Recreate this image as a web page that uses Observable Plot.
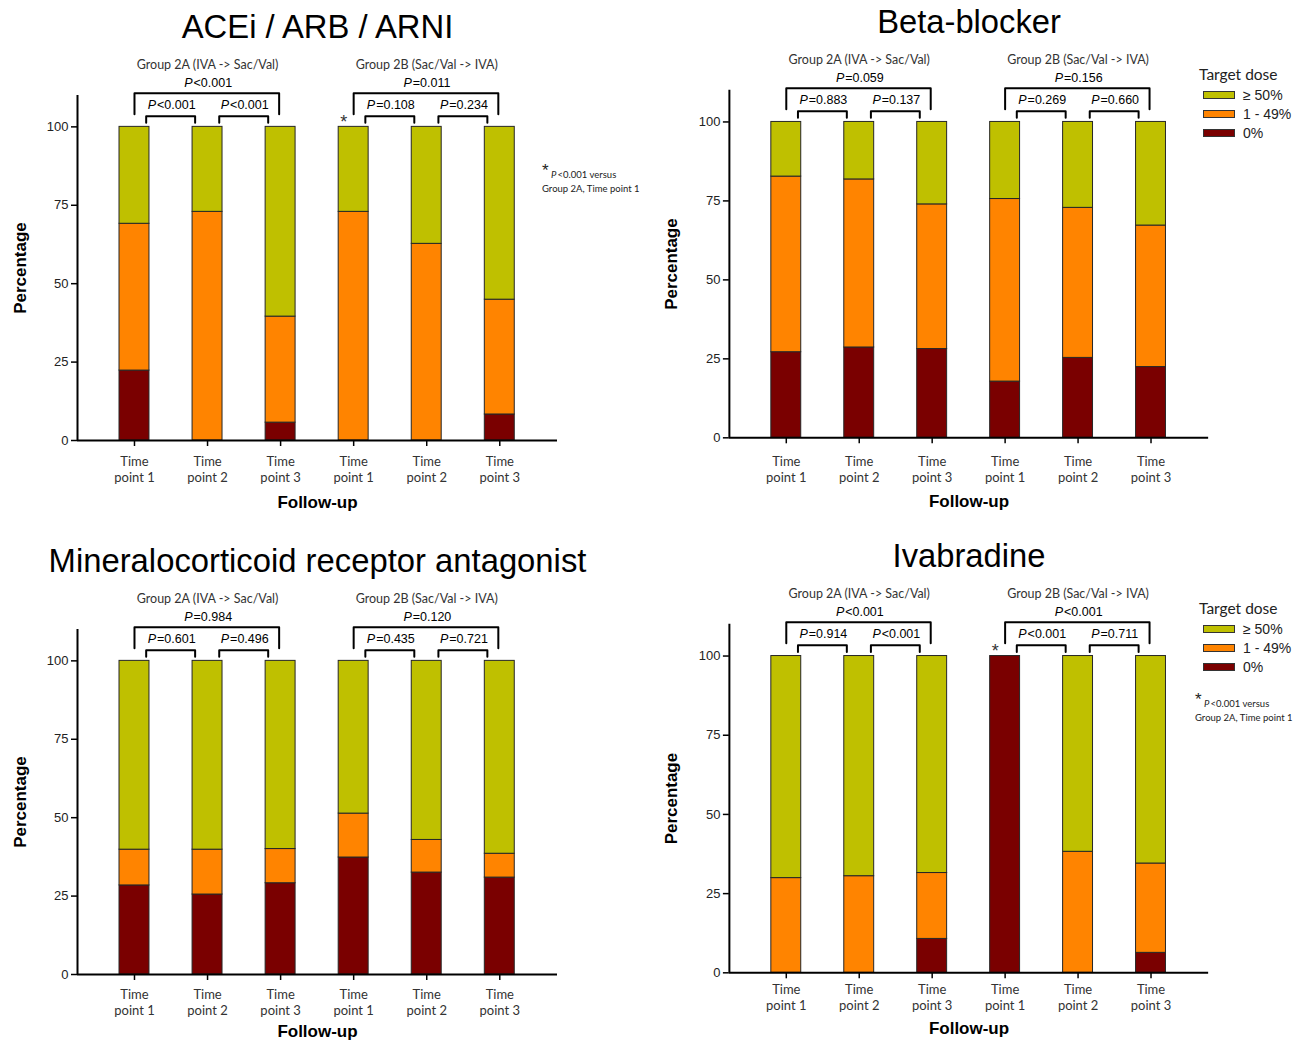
<!DOCTYPE html>
<html><head><meta charset="utf-8">
<script src="https://cdn.jsdelivr.net/npm/d3@7"></script>
<script src="https://cdn.jsdelivr.net/npm/@observablehq/plot@0.6"></script>
<style>
body{margin:0;background:#fff;}
#root{position:relative;width:1302px;height:1041px;overflow:hidden;background:#fff;font-family:"Liberation Sans",Arial,sans-serif;}
.panel{position:absolute;}
.abs{position:absolute;white-space:nowrap;}
.sw{position:absolute;width:32px;height:8px;border:1px solid #333;box-sizing:border-box;}
</style></head><body><div id="root"></div>
<script>
// ---------- data ----------
const positions = [1, 2, 3, 4, 5, 6];
const tickLabels = ["Time\npoint 1", "Time\npoint 2", "Time\npoint 3", "Time\npoint 1", "Time\npoint 2", "Time\npoint 3"];
const groups = ["Group 2A (IVA -> Sac/Val)", "Group 2B (Sac/Val -> IVA)"];
const doses = ["0%", "1 - 49%", "\u2265 50%"];
const doseColors = ["#7A0000", "#FF8400", "#BFC000"];

// ACEi / ARB / ARNI
const aceZero = [22.3, 0, 5.7, 0, 0, 8.3];
const aceLow  = [46.8, 72.9, 33.8, 72.9, 62.7, 36.6];
const aceHigh = [30.9, 27.1, 60.5, 27.1, 37.3, 55.1];
const aceP = ["<0.001", "<0.001", "<0.001", "=0.011", "=0.108", "=0.234"];

// Beta-blocker
const betaZero = [27.1, 28.6, 28.1, 17.8, 25.3, 22.4];
const betaLow  = [55.6, 53.2, 45.8, 57.8, 47.5, 44.8];
const betaHigh = [17.3, 18.2, 26.1, 24.4, 27.2, 32.8];
const betaP = ["=0.059", "=0.883", "=0.137", "=0.156", "=0.269", "=0.660"];

// Mineralocorticoid receptor antagonist
const mraZero = [28.4, 25.5, 29.1, 37.3, 32.5, 30.9];
const mraLow  = [11.4, 14.3, 10.9, 14.0, 10.4, 7.6];
const mraHigh = [60.2, 60.2, 60.0, 48.7, 57.1, 61.5];
const mraP = ["=0.984", "=0.601", "=0.496", "=0.120", "=0.435", "=0.721"];

// Ivabradine
const ivaZero = [0, 0, 10.7, 100, 0, 6.3];
const ivaLow  = [29.9, 30.5, 20.8, 0, 38.2, 28.2];
const ivaHigh = [70.1, 69.5, 68.5, 0, 61.8, 65.5];
const ivaP = ["<0.001", "=0.914", "<0.001", "<0.001", "<0.001", "=0.711"];

// brackets: same order as P-value arrays
const brackets = [
  {from: 1, to: 3, outer: true}, {from: 1, to: 2, outer: false}, {from: 2, to: 3, outer: false},
  {from: 4, to: 6, outer: true}, {from: 4, to: 5, outer: false}, {from: 5, to: 6, outer: false}
];

// ---------- layout ----------
const CAL = "Lato, 'Open Sans', sans-serif";
const ARIAL = "'Liberation Sans', Arial, sans-serif";
const panels = [
  {title: "ACEi / ARB / ARNI", s: [aceZero, aceLow, aceHigh], p: aceP, star: true, left: 0, top: 0, mt: 95, mb: 80, tickDy: 21, follow: 62, pct: -57},
  {title: "Beta-blocker", s: [betaZero, betaLow, betaHigh], p: betaP, star: false, left: 652, top: 0, mt: 90, mb: 82, tickDy: 24, follow: 64, pct: -58},
  {title: "Mineralocorticoid receptor antagonist", s: [mraZero, mraLow, mraHigh], p: mraP, star: false, left: 0, top: 534, mt: 95, mb: 80, tickDy: 20, follow: 57, pct: -57},
  {title: "Ivabradine", s: [ivaZero, ivaLow, ivaHigh], p: ivaP, star: true, left: 652, top: 534, mt: 90, mb: 81, tickDy: 17, follow: 56, pct: -58}
];

const root = document.getElementById("root");
const xDomain = [0.22, 6.79];
const half = 0.205;

for (const cfg of panels) {
  const rows = positions.flatMap((p, i) => doses.map((d, k) => ({pos: p, dose: d, value: cfg.s[k][i]}))).filter(r => r.value > 0);
  const bpts = brackets.flatMap((b, j) => {
    const xl = b.outer ? b.from : b.from + 0.16;
    const xr = b.outer ? b.to - 0.02 : b.to - 0.17;
    const yt = b.outer ? 110.7 : 103.4;
    const yb = b.outer ? 104 : 101.3;
    return [{id: j, x: xl, y: yb}, {id: j, x: xl, y: yt}, {id: j, x: xr, y: yt}, {id: j, x: xr, y: yb}];
  });
  const plabels = brackets.map((b, j) => ({
    x: b.outer ? (b.from + 1) : (b.from + b.to) / 2,
    y: b.outer ? 114 : 107,
    t: cfg.p[j]
  }));
  const glabels = groups.map((g, j) => ({x: 2 + 3 * j, t: g}));

  const chart = Plot.plot({
    width: 651, height: 520,
    marginLeft: 77, marginRight: 94, marginTop: cfg.mt, marginBottom: cfg.mb,
    style: {fontFamily: ARIAL, fontSize: "13px", color: "#000", background: "transparent", overflow: "visible"},
    x: {domain: xDomain, label: null},
    y: {domain: [0, 110], label: null},
    color: {domain: doses, range: doseColors},
    marks: [
      Plot.rectY(rows, {x1: d => d.pos - half, x2: d => d.pos + half, y: "value", fill: "dose", stroke: "#262626", strokeWidth: 1}),
      Plot.axisY([0, 25, 50, 75, 100], {tickSize: 6, strokeWidth: 1.5, fontSize: 13, fill: "#222", label: null}),
      Plot.axisX(positions, {tickSize: 6, strokeWidth: 1.5, tickFormat: () => "", label: null}),
      Plot.ruleY([0], {stroke: "#000", strokeWidth: 2}),
      Plot.ruleX([xDomain[0]], {stroke: "#000", strokeWidth: 2}),
      Plot.text(positions, {x: d => d, text: d => tickLabels[d - 1], frameAnchor: "bottom", lineAnchor: "top", dy: cfg.tickDy - 7, lineHeight: 1.23, fontSize: 13, fontFamily: CAL, fill: "#333"}),
      Plot.text(["Follow-up"], {frameAnchor: "bottom", textAnchor: "middle", lineAnchor: "middle", dy: cfg.follow, fontSize: 17, fontWeight: "bold"}),
      Plot.text(["Percentage"], {frameAnchor: "left", textAnchor: "middle", lineAnchor: "middle", dx: cfg.pct, rotate: -90, fontSize: 17, fontWeight: "bold"}),
      Plot.text([cfg.title], {frameAnchor: "top", textAnchor: "middle", lineAnchor: "middle", dy: -68, fontSize: 32.8}),
      Plot.line(bpts, {x: "x", y: "y", z: "id", stroke: "#000", strokeWidth: 2}),
      Plot.text(plabels, {x: "x", y: "y", text: () => "P", textAnchor: "end", dx: -15, fontStyle: "italic", fontSize: 12.5}),
      Plot.text(plabels, {x: "x", y: "y", text: "t", textAnchor: "start", dx: -14, fontSize: 12.5}),
      Plot.text(glabels, {x: "x", y: 119.7, text: "t", fontFamily: CAL, fontSize: 12.5, fill: "#333"}),
      cfg.star ? Plot.text([4], {x: d => d, y: 102.2, text: () => "*", dx: -10, dy: 2, fontSize: 18, fill: "#333"}) : null
    ]
  });
  const wrap = document.createElement("div");
  wrap.className = "panel";
  wrap.style.left = cfg.left + "px";
  wrap.style.top = cfg.top + "px";
  wrap.appendChild(chart);
  root.appendChild(wrap);
}

// ---------- legends & footnotes (HTML) ----------
function addText(txt, left, cy, size, family, extra = {}) {
  const el = document.createElement("div");
  el.className = "abs";
  el.innerHTML = txt;
  el.style.left = left + "px";
  el.style.top = (cy - size * 0.6) + "px";
  el.style.fontSize = size + "px";
  el.style.lineHeight = (size * 1.2) + "px";
  el.style.fontFamily = family;
  Object.assign(el.style, extra);
  root.appendChild(el);
}
function addLegend(titleY, rowYs) {
  addText("Target dose", 1199, titleY, 15.5, CAL, {color: "#222"});
  const order = [2, 1, 0];
  order.forEach((k, i) => {
    const sw = document.createElement("div");
    sw.className = "sw";
    sw.style.left = "1203px";
    sw.style.top = (rowYs[i] - 4) + "px";
    sw.style.background = doseColors[k];
    root.appendChild(sw);
    addText(doses[k], 1243, rowYs[i], 14, ARIAL, {color: "#222"});
  });
}
function addFootnote(x, y) {
  addText("*", x, y - 3, 17, ARIAL, {color: "#222"});
  addText("<i>P</i>&thinsp;&lt;0.001 versus", x + 9, y + 1, 9.5, CAL, {color: "#222"});
  addText("Group 2A, Time point 1", x, y + 15, 9.5, CAL, {color: "#222"});
}
addLegend(74, [95, 114, 133]);
addLegend(608, [629, 648, 667]);
addFootnote(542, 174);
addFootnote(1195, 703);
</script>
</body></html>
